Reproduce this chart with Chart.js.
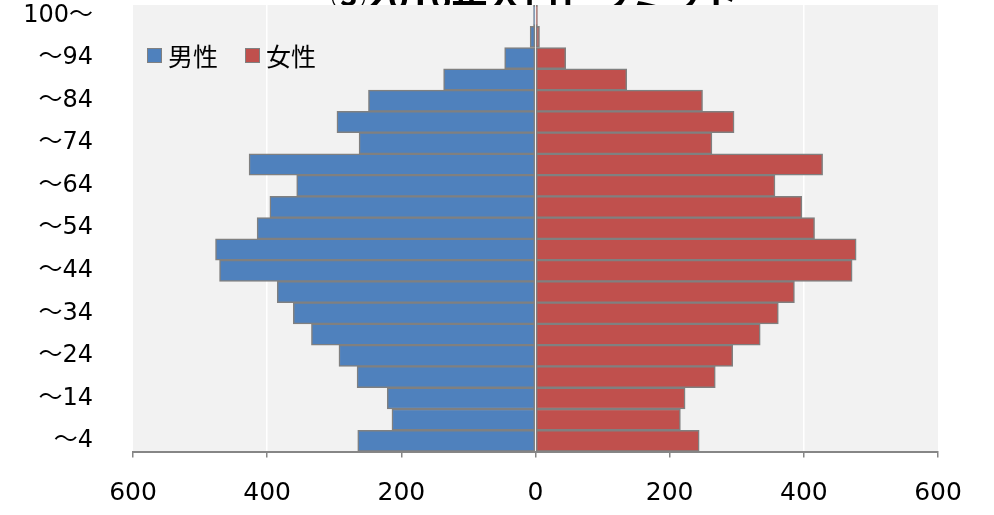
<!DOCTYPE html>
<html>
<head>
<meta charset="utf-8">
<script src="https://cdn.jsdelivr.net/npm/chart.js@4.4.1/dist/chart.umd.min.js"></script>
<style>
    html, body { margin: 0; padding: 0; background: #ffffff; overflow: hidden; }
    #wrap { width: 994px; height: 515px; position: relative; }
</style>
</head>
<body>
<div id="wrap"><canvas id="pyramidChart" width="994" height="515"></canvas></div>
<script>
// age groups, youngest first
const ageLabels = ['～4', '～9', '～14', '～19', '～24', '～29', '～34', '～39', '～44', '～49',
    '～54', '～59', '～64', '～69', '～74', '～79', '～84', '～89', '～94', '～99', '100～'];
const maleValues = [265, 214, 221, 266, 293, 334, 361, 385, 471, 477,
    415, 396, 356, 427, 263, 296, 249, 137, 46, 8, 3];
const femaleValues = [244, 216, 223, 268, 294, 335, 362, 386, 472, 478,
    416, 397, 357, 428, 263, 296, 249, 136, 45, 6, 3];
const seriesNames = ['男性', '女性'];
const xTicks = [-600, -400, -200, 0, 200, 400, 600];
const chartTitle = '③2016年人口ピラミッド';

const MALE_COLOR = '#4f81bd';
const FEMALE_COLOR = '#c0504d';
const EDGE_COLOR = '#808080';
const FONT = '"DejaVu Sans", "Noto Sans CJK JP", sans-serif';
const CJK_FONT = '"Noto Sans CJK JP", sans-serif';

// title (partly cut off at the top) + grey plot background
const backdropPlugin = {
    id: 'backdrop',
    beforeDraw(chart) {
        const { ctx, chartArea: a } = chart;
        ctx.save();
        ctx.fillStyle = '#000000';
        ctx.font = 'bold 36px ' + CJK_FONT;
        ctx.textAlign = 'center';
        ctx.textBaseline = 'alphabetic';
        ctx.fillText(chartTitle, 535, 10);
        ctx.fillStyle = '#f2f2f2';
        ctx.fillRect(a.left, a.top, a.right - a.left, a.bottom - a.top);
        ctx.restore();
    }
};

// legend sitting inside the plot area, top left
const innerLegendPlugin = {
    id: 'innerLegend',
    afterDatasetsDraw(chart) {
        const { ctx } = chart;
        const items = [
            { text: seriesNames[0], color: MALE_COLOR, x: 147 },
            { text: seriesNames[1], color: FEMALE_COLOR, x: 245 }
        ];
        ctx.save();
        ctx.font = '25px ' + CJK_FONT;
        ctx.textBaseline = 'middle';
        ctx.textAlign = 'left';
        items.forEach(it => {
            ctx.fillStyle = it.color;
            ctx.fillRect(it.x, 48, 15, 15);
            ctx.strokeStyle = EDGE_COLOR;
            ctx.lineWidth = 1;
            ctx.strokeRect(it.x + 0.5, 48.5, 14, 14);
            ctx.fillStyle = '#000000';
            ctx.fillText(it.text, it.x + 21, 56);
        });
        ctx.restore();
    }
};

new Chart(document.getElementById('pyramidChart').getContext('2d'), {
    type: 'bar',
    data: {
        labels: ageLabels,
        datasets: [{
            label: seriesNames[0],
            data: maleValues.map(v => -v),
            backgroundColor: MALE_COLOR,
            borderColor: EDGE_COLOR,
            borderWidth: 1.5,
            borderSkipped: false,
            barPercentage: 1,
            categoryPercentage: 1
        }, {
            label: seriesNames[1],
            data: femaleValues,
            backgroundColor: FEMALE_COLOR,
            borderColor: EDGE_COLOR,
            borderWidth: 1.5,
            borderSkipped: false,
            barPercentage: 1,
            categoryPercentage: 1
        }]
    },
    options: {
        indexAxis: 'y',
        responsive: false,
        animation: false,
        layout: { autoPadding: false, padding: { left: 0, right: 56, top: 5, bottom: 0 } },
        plugins: {
            legend: { display: false },
            title: { display: false },
            tooltip: { enabled: false }
        },
        scales: {
            x: {
                stacked: true,
                min: -600,
                max: 600,
                afterBuildTicks: scale => { scale.ticks = xTicks.map(v => ({ value: v })); },
                afterFit: scale => {
                    scale.height = 63.5;
                    scale.paddingLeft = 0;
                    scale.paddingRight = 0;
                },
                border: { display: true, color: '#868686', width: 2 },
                grid: {
                    color: c => (c.tick && Math.abs(c.tick.value) === 400) ? '#ffffff' : 'rgba(0,0,0,0)',
                    lineWidth: 1.5,
                    tickColor: '#868686',
                    tickLength: 6,
                    drawTicks: true
                },
                ticks: {
                    color: '#000000',
                    font: { size: 25, family: FONT },
                    padding: 21,
                    maxRotation: 0,
                    callback: v => String(Math.abs(v))
                }
            },
            y: {
                stacked: true,
                reverse: true,
                afterFit: scale => {
                    scale.width = 133;
                    scale.paddingTop = 0;
                    scale.paddingBottom = 0;
                },
                border: { display: false },
                grid: { display: false },
                ticks: {
                    autoSkip: false,
                    color: '#000000',
                    font: { size: 24, family: FONT },
                    padding: 32,
                    callback: (v, i) => (i % 2 === 0 ? ageLabels[i] : '')
                }
            }
        }
    },
    plugins: [backdropPlugin, innerLegendPlugin]
});
</script>
</body>
</html>
